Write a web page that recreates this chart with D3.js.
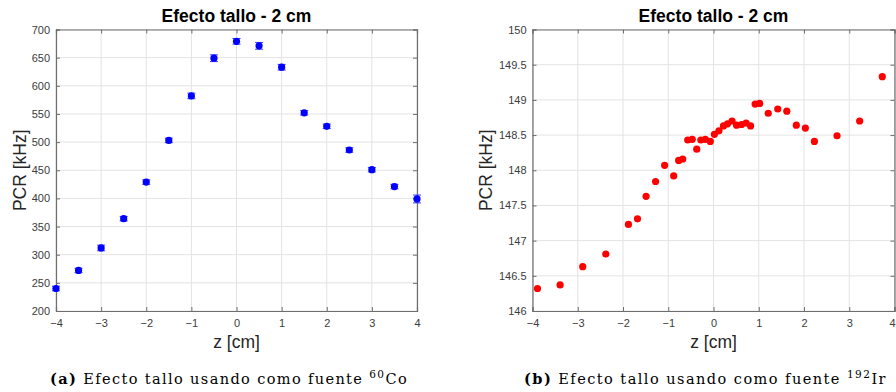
<!DOCTYPE html>
<html>
<head>
<meta charset="utf-8">
<script src="https://cdn.jsdelivr.net/npm/d3@7"></script>
<style>
  body { margin: 0; background: #fff; }
  svg { display: block; }
</style>
</head>
<body>
<svg id="chart" width="896" height="392"></svg>
<script>
// panel (a): 60Co source, with error bars
const coZ = [-4, -3.5, -3, -2.5, -2, -1.5, -1, -0.5, 0, 0.5, 1, 1.5, 2, 2.5, 3, 3.5, 4];
const coPcr = [240, 272, 312, 364, 429, 503, 582, 649, 679, 671, 633, 552, 528, 486, 451, 421, 399];
const coErr = [4, 4, 5, 4, 4, 4, 5, 6, 5, 6, 5, 4, 4, 4, 4, 4, 7];
const coYTicks = [200, 250, 300, 350, 400, 450, 500, 550, 600, 650, 700];

// panel (b): 192Ir source
const irZ = [-3.89, -3.39, -2.89, -2.38, -1.88, -1.68, -1.49, -1.28, -1.08, -0.88, -0.77, -0.68,
             -0.57, -0.47, -0.37, -0.28, -0.18, -0.07, 0.02, 0.12, 0.22, 0.31, 0.41, 0.51,
             0.62, 0.72, 0.82, 0.92, 1.02, 1.21, 1.42, 1.62, 1.83, 2.03, 2.23, 2.73, 3.23, 3.73];
const irPcr = [146.32, 146.37, 146.63, 146.81, 147.23, 147.31, 147.63, 147.84, 148.07, 147.92, 148.14, 148.16,
               148.43, 148.44, 148.30, 148.43, 148.44, 148.41, 148.51, 148.56, 148.63, 148.66, 148.70, 148.64,
               148.65, 148.67, 148.63, 148.94, 148.95, 148.81, 148.87, 148.84, 148.64, 148.60, 148.41, 148.49, 148.70, 149.33];
const irYTicks = [146, 146.5, 147, 147.5, 148, 148.5, 149, 149.5, 150];

const zTicks = [-4, -3, -2, -1, 0, 1, 2, 3, 4];
const titleText = "Efecto tallo - 2 cm";

const svg = d3.select("#chart");
const sans = "'Liberation Sans', Arial, sans-serif";
const serif = "'DejaVu Serif', 'Liberation Serif', serif";

function drawPanel(opts) {
    const { left, right, top, bottom } = opts.box;
    const width = right - left;
    const height = bottom - top;

    const x = d3.scaleLinear().domain([-4, 4]).range([0, width]);
    const y = d3.scaleLinear().domain(opts.yDomain).range([height, 0]);

    const g = svg.append("g").attr("transform", `translate(${left}, ${top})`);

    // grid
    g.append("g")
     .selectAll("line")
     .data(zTicks)
     .enter()
     .append("line")
     .attr("x1", d => x(d)).attr("x2", d => x(d))
     .attr("y1", 0).attr("y2", height)
     .attr("stroke", "#e3e3e3").attr("stroke-width", 1);

    g.append("g")
     .selectAll("line")
     .data(opts.yTicks)
     .enter()
     .append("line")
     .attr("x1", 0).attr("x2", width)
     .attr("y1", d => y(d)).attr("y2", d => y(d))
     .attr("stroke", "#e3e3e3").attr("stroke-width", 1);

    // axes with inward ticks, box on all sides
    const axisColor = "#6e6e6e";
    const bottomAxis = g.append("g")
       .attr("transform", `translate(0, ${height})`)
       .call(d3.axisBottom(x).tickValues(zTicks).tickSize(-4).tickPadding(8).tickFormat(d3.format("d")));
    const leftAxis = g.append("g")
       .call(d3.axisLeft(y).tickValues(opts.yTicks).tickSize(-4).tickPadding(6).tickFormat(opts.yFormat));
    g.append("g")
       .call(d3.axisTop(x).tickValues(zTicks).tickSize(-4).tickFormat(""));
    g.append("g")
       .attr("transform", `translate(${width}, 0)`)
       .call(d3.axisRight(y).tickValues(opts.yTicks).tickSize(-4).tickFormat(""));

    g.selectAll(".domain").attr("stroke", axisColor).attr("stroke-width", 1.2);
    g.selectAll(".tick line").attr("stroke", axisColor);
    [bottomAxis, leftAxis].forEach(a => a.selectAll("text")
        .attr("fill", "#3c3c3c")
        .style("font-family", sans)
        .style("font-size", "11px"));
    bottomAxis.selectAll("text").attr("dy", "0.71em");

    // keep the last x label inside the page when the panel touches the edge
    if (opts.clampLast) {
        bottomAxis.selectAll(".tick").filter(d => d === 4).select("text")
            .attr("text-anchor", "end").attr("x", 896 - left - width - 1);
    }

    // error bars
    if (opts.err) {
        const eb = g.append("g").selectAll("g")
            .data(opts.zs.map((z, i) => ({ z: z, v: opts.vs[i], e: opts.err[i] })))
            .enter()
            .append("g")
            .attr("stroke", "#3a3aff")
            .attr("stroke-width", 1);
        eb.append("line")
          .attr("x1", d => x(d.z)).attr("x2", d => x(d.z))
          .attr("y1", d => y(d.v - d.e)).attr("y2", d => y(d.v + d.e));
        eb.append("line")
          .attr("x1", d => x(d.z) - 4).attr("x2", d => x(d.z) + 4)
          .attr("y1", d => y(d.v - d.e)).attr("y2", d => y(d.v - d.e));
        eb.append("line")
          .attr("x1", d => x(d.z) - 4).attr("x2", d => x(d.z) + 4)
          .attr("y1", d => y(d.v + d.e)).attr("y2", d => y(d.v + d.e));
    }

    // markers
    g.append("g")
     .selectAll("circle")
     .data(opts.zs.map((z, i) => ({ z: z, v: opts.vs[i] })))
     .enter()
     .append("circle")
     .attr("cx", d => x(d.z))
     .attr("cy", d => y(d.v))
     .attr("r", 3.6)
     .attr("fill", opts.color);

    // title
    svg.append("text")
       .attr("x", left + width / 2)
       .attr("y", 22)
       .attr("text-anchor", "middle")
       .style("font-family", sans)
       .style("font-weight", "bold")
       .style("font-size", "17.5px")
       .attr("fill", "#000")
       .text(titleText);

    // axis labels
    svg.append("text")
       .attr("x", left + width / 2)
       .attr("y", 348)
       .attr("text-anchor", "middle")
       .style("font-family", sans)
       .style("font-size", "17.5px")
       .attr("fill", "#262626")
       .text("z [cm]");

    svg.append("text")
       .attr("transform", `translate(${opts.yLabelX}, ${top + height / 2}) rotate(-90)`)
       .attr("text-anchor", "middle")
       .style("font-family", sans)
       .style("font-size", "17.5px")
       .attr("fill", "#262626")
       .text("PCR [kHz]");

    // caption, spread to the width it has in the figure
    const cap = svg.append("text")
       .attr("x", opts.capX)
       .attr("y", 384)
       .attr("text-anchor", "middle")
       .style("font-family", serif)
       .style("font-size", "14.5px")
       .attr("fill", "#000");
    cap.append("tspan").style("font-weight", "bold").text(opts.capTag);
    cap.append("tspan").text(" Efecto tallo usando como fuente ");
    cap.append("tspan").attr("dy", -6).style("font-size", "10.5px").text(opts.isotope);
    cap.append("tspan").attr("dy", 6).text(opts.element);

    const natural = cap.node().getComputedTextLength();
    const nChars = cap.text().length;
    const spacing = (opts.capWidth - natural) / nChars;
    cap.style("letter-spacing", `${spacing}px`);
}

drawPanel({
    box: { left: 56, right: 417, top: 29.5, bottom: 311 },
    yDomain: [200, 700],
    yTicks: coYTicks,
    yFormat: d3.format("d"),
    zs: coZ, vs: coPcr, err: coErr,
    color: "#0000ff",
    yLabelX: 26,
    capX: 229, capWidth: 358,
    capTag: "(a)", isotope: "60", element: "Co"
});

drawPanel({
    box: { left: 532.5, right: 894.5, top: 29.5, bottom: 311 },
    yDomain: [146, 150],
    yTicks: irYTicks,
    yFormat: d => d3.format("")(d),
    zs: irZ, vs: irPcr, err: null,
    color: "#ff0000",
    yLabelX: 492,
    clampLast: true,
    capX: 705.5, capWidth: 363,
    capTag: "(b)", isotope: "192", element: "Ir"
});
</script>
</body>
</html>
